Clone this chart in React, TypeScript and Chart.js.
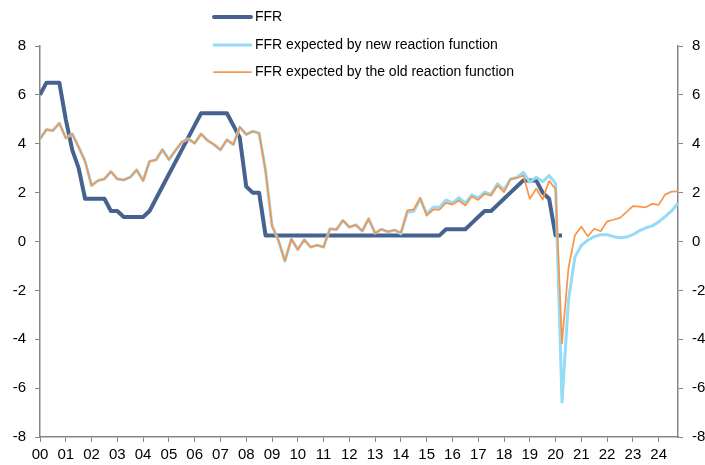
import React, { useEffect, useRef } from "react";
import { Chart, registerables } from "chart.js";

Chart.register(...registerables);

// Year tick labels (one per 4 quarters, starting 2000Q1)
const yearLabels = [
  "00", "01", "02", "03", "04", "05", "06", "07", "08", "09", "10", "11", "12",
  "13", "14", "15", "16", "17", "18", "19", "20", "21", "22", "23", "24",
];

// Quarterly values, 2000Q1 onward
const ffr = [
  6.0, 6.5, 6.5, 6.5,
  5.0, 3.75, 3.0, 1.75,
  1.75, 1.75, 1.75, 1.25,
  1.25, 1.0, 1.0, 1.0,
  1.0, 1.25, 1.75, 2.25,
  2.75, 3.25, 3.75, 4.25,
  4.75, 5.25, 5.25, 5.25,
  5.25, 5.25, 4.75, 4.25,
  2.25, 2.0, 2.0, 0.25,
  0.25, 0.25, 0.25, 0.25,
  0.25, 0.25, 0.25, 0.25,
  0.25, 0.25, 0.25, 0.25,
  0.25, 0.25, 0.25, 0.25,
  0.25, 0.25, 0.25, 0.25,
  0.25, 0.25, 0.25, 0.25,
  0.25, 0.25, 0.25, 0.5,
  0.5, 0.5, 0.5, 0.75,
  1.0, 1.25, 1.25, 1.5,
  1.75, 2.0, 2.25, 2.5,
  2.5, 2.5, 2.0, 1.75,
  0.25, 0.25,
];

const newRF = [
  4.2, 4.58, 4.54, 4.84,
  4.24, 4.4, 3.86, 3.28,
  2.29, 2.49, 2.56, 2.86,
  2.56, 2.52, 2.63, 2.93,
  2.49, 3.28, 3.34, 3.76,
  3.35, 3.72, 4.06, 4.2,
  4.02, 4.4, 4.13, 3.97,
  3.75, 4.16, 3.97, 4.68,
  4.38, 4.51, 4.43, 2.9,
  0.65, 0.04, -0.8, 0.1,
  -0.33, 0.07, -0.23, -0.15,
  -0.23, 0.52, 0.49, 0.86,
  0.59, 0.68, 0.43, 0.93,
  0.34, 0.5, 0.4, 0.46,
  0.32, 1.2, 1.24, 1.75,
  1.13, 1.4, 1.4, 1.7,
  1.57, 1.79, 1.57, 1.91,
  1.79, 2.02, 1.93, 2.36,
  2.11, 2.56, 2.62, 2.83,
  2.43, 2.63, 2.45, 2.7,
  2.38, -6.57, -2.41, -0.64,
  -0.16, 0.05, 0.2, 0.28,
  0.28, 0.2, 0.15, 0.18,
  0.28, 0.44, 0.56, 0.64,
  0.8, 1.02, 1.25, 1.57,
];

const oldRF = [
  4.2, 4.58, 4.54, 4.84,
  4.24, 4.4, 3.86, 3.28,
  2.29, 2.49, 2.56, 2.86,
  2.56, 2.52, 2.63, 2.93,
  2.49, 3.28, 3.34, 3.76,
  3.35, 3.72, 4.06, 4.2,
  4.02, 4.4, 4.13, 3.97,
  3.75, 4.16, 3.97, 4.68,
  4.38, 4.51, 4.43, 2.9,
  0.65, 0.04, -0.8, 0.1,
  -0.33, 0.07, -0.23, -0.15,
  -0.23, 0.52, 0.49, 0.86,
  0.59, 0.68, 0.43, 0.93,
  0.34, 0.5, 0.4, 0.48,
  0.37, 1.27, 1.31, 1.79,
  1.06, 1.3, 1.3, 1.58,
  1.51, 1.68, 1.47, 1.84,
  1.7, 1.95, 1.88, 2.29,
  2.02, 2.54, 2.6, 2.7,
  1.75, 2.16, 1.72, 2.48,
  2.15, -4.16, -1.1, 0.25,
  0.61, 0.21, 0.52, 0.42,
  0.82, 0.89, 0.97, 1.2,
  1.45, 1.43, 1.4, 1.54,
  1.5, 1.92, 2.04, 2.05,
];

const seriesNames = [
  "FFR",
  "FFR expected by new reaction function",
  "FFR expected by the old reaction function",
];

const yTicks = [-8, -6, -4, -2, 0, 2, 4, 6, 8];

const FONT = 'Arial, "Liberation Sans", Helvetica, sans-serif';
const AXIS_GRAY = "#868686";

const legendPlugin = {
  id: "stackedLegend",
  afterDraw(chart: any) {
    const ctx = chart.ctx;
    const rows = [17, 45, 72];
    ctx.save();
    ctx.font = `14px ${FONT}`;
    ctx.textBaseline = "middle";
    ctx.textAlign = "left";
    chart.data.datasets.forEach((ds: any, i: number) => {
      const y = rows[i];
      ctx.strokeStyle = ds.borderColor;
      ctx.lineWidth = ds.borderWidth;
      ctx.lineCap = "round";
      ctx.beginPath();
      ctx.moveTo(214, y);
      ctx.lineTo(251, y);
      ctx.stroke();
      ctx.fillStyle = "#000000";
      ctx.fillText(ds.label, 255, y + 0.5);
    });
    ctx.restore();
  },
};

export default function App() {
  const canvasRef = useRef<HTMLCanvasElement | null>(null);

  useEffect(() => {
    if (!canvasRef.current) return;
    const toPts = (arr: number[]) => arr.map((v, i) => ({ x: i, y: v }));
    const nQuarters = oldRF.length;

    const chart = new Chart(canvasRef.current, {
      type: "line",
      data: {
        datasets: [
          {
            label: seriesNames[0],
            data: toPts(ffr),
            borderColor: "#46638F",
            borderWidth: 4,
            pointRadius: 0,
            tension: 0,
            borderJoinStyle: "round",
            order: 3,
            yAxisID: "y",
          },
          {
            label: seriesNames[1],
            data: toPts(newRF),
            borderColor: "#93DBF7",
            borderWidth: 3,
            pointRadius: 0,
            tension: 0,
            borderJoinStyle: "round",
            order: 2,
            yAxisID: "y",
          },
          {
            label: seriesNames[2],
            data: toPts(oldRF),
            borderColor: "#F7964B",
            borderWidth: 1.75,
            pointRadius: 0,
            tension: 0,
            borderJoinStyle: "round",
            order: 1,
            yAxisID: "y",
          },
        ],
      },
      options: {
        responsive: false,
        animation: false,
        events: [],
        layout: { padding: { top: 46, left: 0, right: 0, bottom: 0 } },
        plugins: {
          legend: { display: false },
          tooltip: { enabled: false },
          title: { display: false },
        },
        scales: {
          x: {
            type: "linear",
            min: 0,
            max: nQuarters - 1,
            afterBuildTicks: (scale: any) => {
              scale.ticks = yearLabels.map((_, i) => ({ value: i * 4 }));
            },
            afterFit: (scale: any) => {
              scale.height = 28;
            },
            ticks: {
              autoSkip: false,
              maxRotation: 0,
              padding: 4,
              color: "#000000",
              font: { family: FONT, size: 15 },
              callback: (v: any) => yearLabels[Math.round(Number(v) / 4)],
            },
            grid: {
              display: true,
              drawOnChartArea: false,
              drawTicks: true,
              tickLength: 5,
              color: AXIS_GRAY,
              lineWidth: 1,
            },
            border: { display: true, color: AXIS_GRAY, width: 1.5 },
          },
          y: {
            type: "linear",
            position: "left",
            min: -8,
            max: 8,
            afterBuildTicks: (scale: any) => {
              scale.ticks = yTicks.map((v) => ({ value: v }));
            },
            afterFit: (scale: any) => {
              scale.width = 40;
            },
            ticks: {
              padding: 9,
              color: "#000000",
              font: { family: FONT, size: 15 },
            },
            grid: {
              display: true,
              drawOnChartArea: false,
              drawTicks: true,
              tickLength: 5,
              color: AXIS_GRAY,
            },
            border: { display: true, color: AXIS_GRAY, width: 1.5 },
          },
          y2: {
            type: "linear",
            position: "right",
            display: true,
            min: -8,
            max: 8,
            afterBuildTicks: (scale: any) => {
              scale.ticks = yTicks.map((v) => ({ value: v }));
            },
            afterFit: (scale: any) => {
              scale.width = 27;
            },
            ticks: {
              padding: 9,
              color: "#000000",
              font: { family: FONT, size: 15 },
            },
            grid: {
              display: true,
              drawOnChartArea: false,
              drawTicks: true,
              tickLength: 5,
              color: AXIS_GRAY,
            },
            border: { display: true, color: AXIS_GRAY, width: 1.5 },
          },
        },
      },
      plugins: [legendPlugin],
    } as any);

    return () => {
      chart.destroy();
    };
  }, []);

  return (
    <div
      style={{
        position: "fixed",
        left: 0,
        top: 0,
        width: 705,
        height: 465,
        background: "#ffffff",
      }}
    >
      <canvas ref={canvasRef} width={705} height={465} />
    </div>
  );
}
